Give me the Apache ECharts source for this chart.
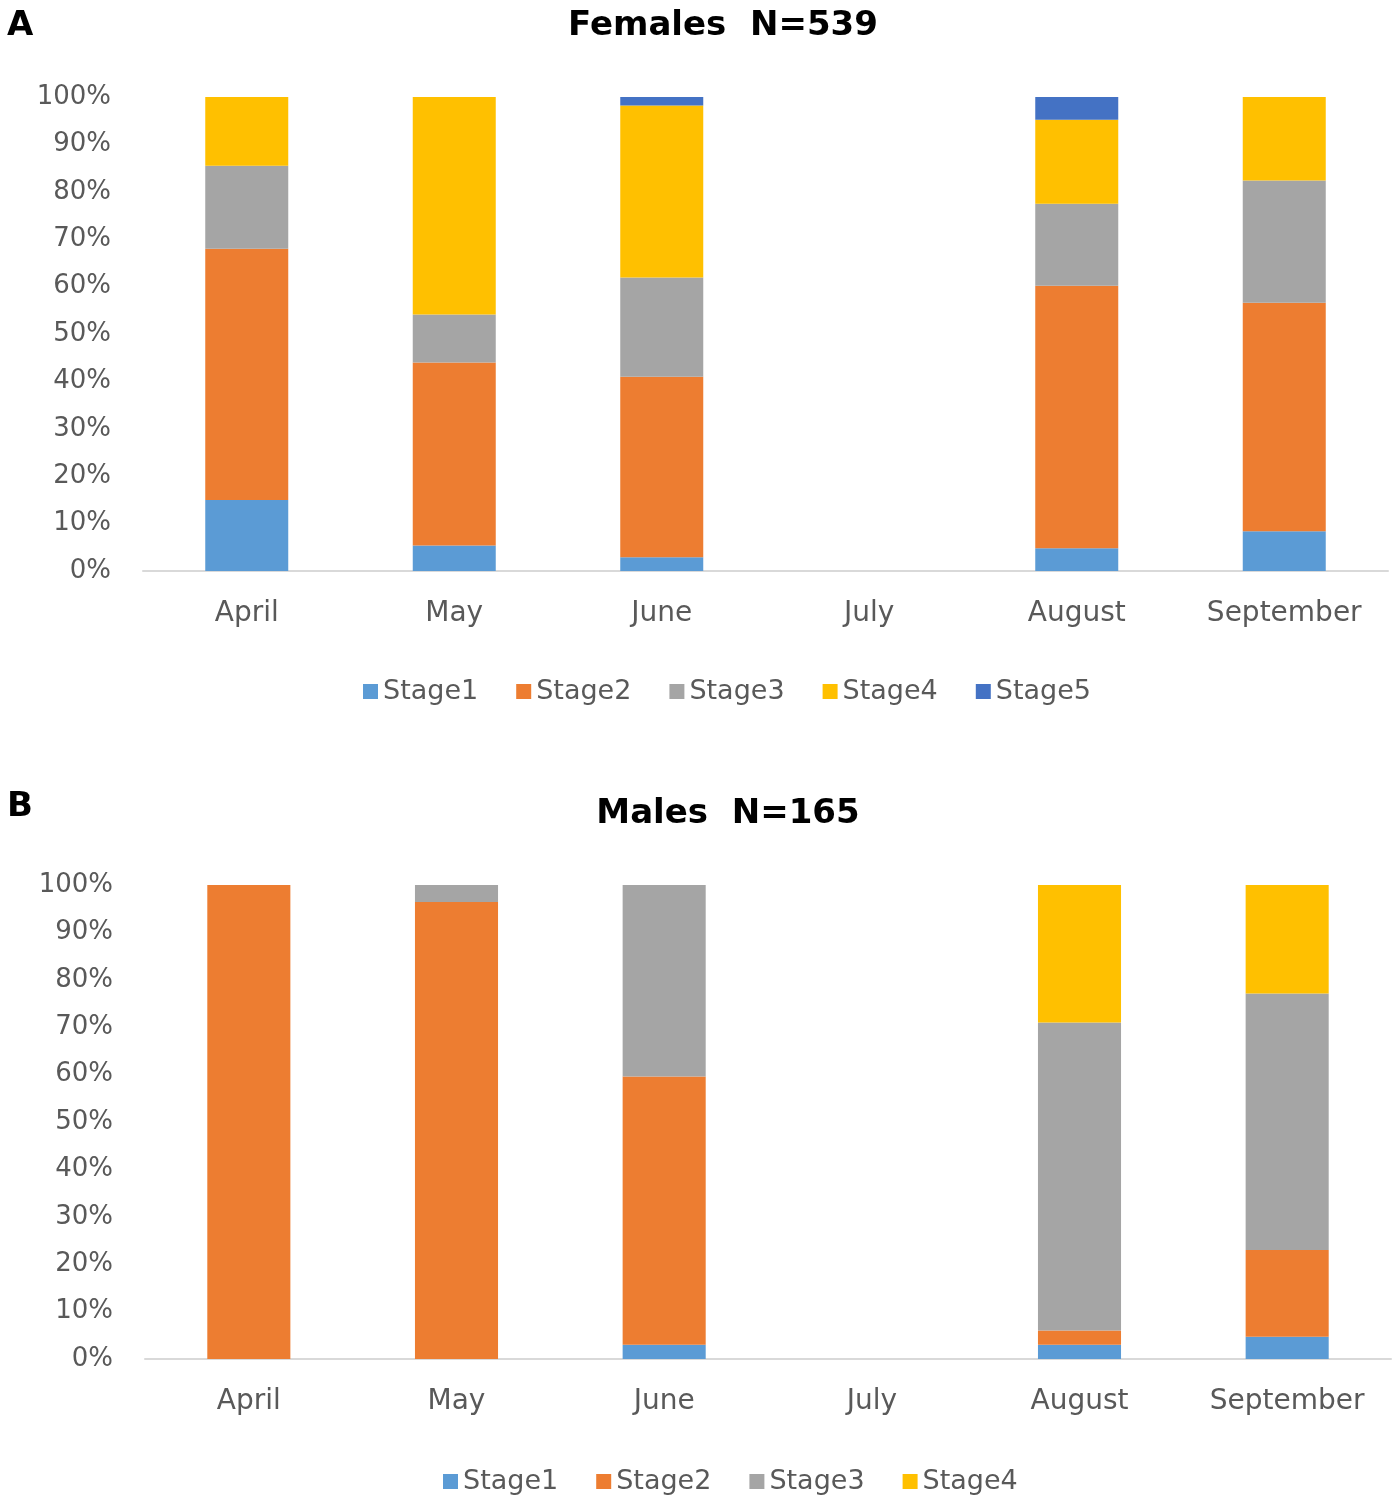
<!DOCTYPE html>
<html>
<head>
<meta charset="utf-8">
<script src="https://cdn.jsdelivr.net/npm/echarts@6/dist/echarts.min.js"></script>
<style>
html,body{margin:0;padding:0;background:#fff;}
#chart{width:1400px;height:1505px;}
</style>
</head>
<body>
<div id="chart"></div>
<script>
var months = ['April', 'May', 'June', 'July', 'August', 'September'];
var stageNames = ['Stage1', 'Stage2', 'Stage3', 'Stage4', 'Stage5'];
var stageColors = ['#5B9BD5', '#ED7D31', '#A5A5A5', '#FFC000', '#4472C4'];

// Females (%), per month
var femStage1 = [15.0, 5.4, 2.9, null, 4.8, 8.4];
var femStage2 = [53.0, 38.6, 38.1, null, 55.4, 48.2];
var femStage3 = [17.5, 10.1, 20.9, null, 17.3, 25.8];
var femStage4 = [14.5, 45.9, 36.3, null, 17.7, 17.6];
var femStage5 = [0, 0, 1.8, null, 4.8, 0];

// Males (%), per month
var malStage1 = [0, 0, 3.0, null, 3.0, 4.7];
var malStage2 = [100, 96.4, 56.6, null, 3.0, 18.3];
var malStage3 = [0, 3.6, 40.4, null, 65.0, 54.1];
var malStage4 = [0, 0, 0, null, 29.0, 22.9];

var femData = [femStage1, femStage2, femStage3, femStage4, femStage5];
var malData = [malStage1, malStage2, malStage3, malStage4];

var FONT = 'DejaVu Sans';
var labelColor = '#595959';

function xAxis(gi) {
  return {
    type: 'category', gridIndex: gi, data: months,
    axisLine: {lineStyle: {color: '#D9D9D9', width: 2}},
    axisTick: {show: false},
    axisLabel: {color: labelColor, fontFamily: FONT, fontSize: 28, margin: 29}
  };
}
function yAxis(gi) {
  return {
    type: 'value', gridIndex: gi, min: 0, max: 100, interval: 10,
    axisLine: {show: false}, axisTick: {show: false}, splitLine: {show: false},
    axisLabel: {color: labelColor, fontFamily: FONT, fontSize: 26, margin: 32, formatter: '{value}%'}
  };
}

var series = [];
femData.forEach(function (arr, i) {
  series.push({
    name: stageNames[i], type: 'bar', stack: 'fem', xAxisIndex: 0, yAxisIndex: 0,
    barWidth: '40%', data: arr, itemStyle: {color: stageColors[i]}
  });
});
malData.forEach(function (arr, i) {
  series.push({
    name: stageNames[i], type: 'bar', stack: 'mal', xAxisIndex: 1, yAxisIndex: 1,
    barWidth: '40%', data: arr, itemStyle: {color: stageColors[i]}
  });
});

var legendCommon = {
  orient: 'horizontal', icon: 'rect', itemWidth: 15, itemHeight: 15, itemGap: 38,
  textStyle: {color: labelColor, fontFamily: FONT, fontSize: 27},
  selectedMode: false
};

var option = {
  animation: false,
  backgroundColor: '#ffffff',
  title: [
    {text: 'Females  N=539', left: 718, top: 4, textAlign: 'center',
     textStyle: {fontFamily: FONT, fontWeight: 'bold', fontSize: 34, color: '#000'}},
    {text: 'Males  N=165', left: 723, top: 792, textAlign: 'center',
     textStyle: {fontFamily: FONT, fontWeight: 'bold', fontSize: 34, color: '#000'}},
    {text: 'A', left: 2, top: 4,
     textStyle: {fontFamily: FONT, fontWeight: 'bold', fontSize: 34, color: '#000'}},
    {text: 'B', left: 2, top: 785,
     textStyle: {fontFamily: FONT, fontWeight: 'bold', fontSize: 34, color: '#000'}}
  ],
  grid: [
    {left: 143, right: 12, top: 97, height: 474},
    {left: 145, right: 9, top: 885, height: 474}
  ],
  xAxis: [xAxis(0), xAxis(1)],
  yAxis: [yAxis(0), yAxis(1)],
  legend: [
    Object.assign({}, legendCommon, {left: 358, top: 673, data: stageNames.slice(0, 5)}),
    Object.assign({}, legendCommon, {left: 438, top: 1463, data: stageNames.slice(0, 4)})
  ],
  series: series
};

var chart = echarts.init(document.getElementById('chart'), null, {renderer: 'canvas'});
chart.setOption(option);
</script>
</body>
</html>
